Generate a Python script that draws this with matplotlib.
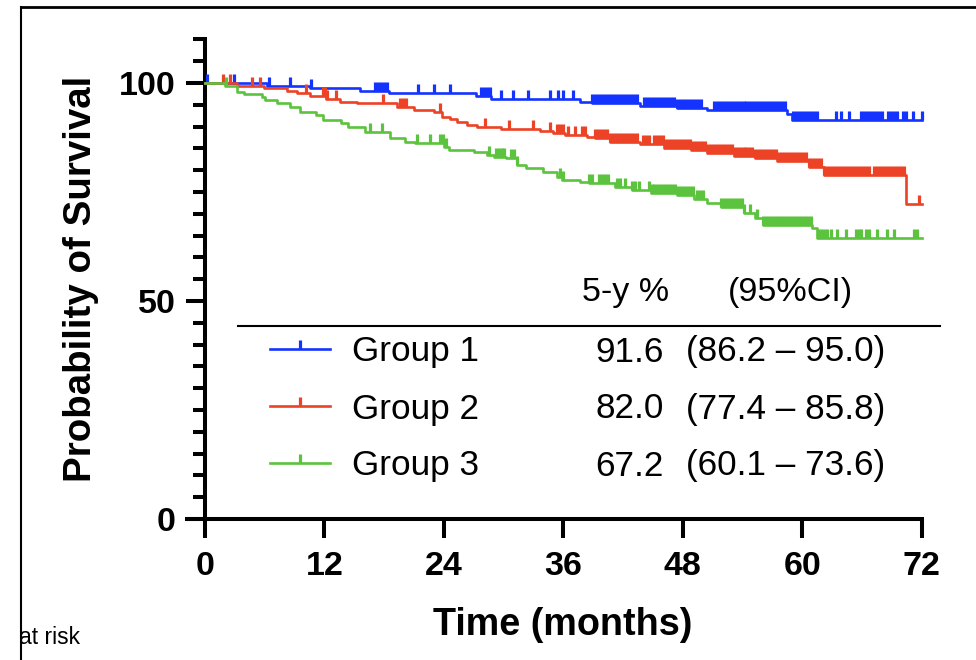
import numpy as np
import matplotlib
matplotlib.use("Agg")
import matplotlib.pyplot as plt
from matplotlib.lines import Line2D
from matplotlib.ticker import MultipleLocator

plt.rcParams['font.family'] = ['Liberation Sans', 'DejaVu Sans']

# ---- data ----
# event times (months) and survival (%) after each step
g1_t = [6.2, 10.6, 15.6, 18.5, 27.2, 28.7, 37.7, 38.9, 43.7, 47.4, 50.4, 58.5, 59.0]
g1_s = [99.4, 98.8, 98.2, 97.7, 97.0, 96.3, 95.7, 95.3, 94.8, 94.2, 93.8, 92.8, 91.5]
g1_cens = [0.2, 2.9, 6.4, 8.5, 10.7, 17.1, 17.4, 17.7, 18.0, 18.3, 21.4, 23.0, 24.6,
           27.7, 28.0, 28.3, 28.6, 29.7, 30.9, 32.5, 34.7, 35.5, 36.0, 37.0,
           38.9, 39.2, 39.5, 39.8, 40.1, 40.4, 40.7, 41.0, 41.3, 41.6, 41.9, 42.2,
           42.5, 42.8, 43.1, 43.4, 44.1, 44.4, 44.7, 45.0, 45.3, 45.6, 45.9, 46.2,
           46.5, 46.8, 47.1, 47.4, 47.7, 48.0, 48.3, 48.6, 48.9, 49.2, 49.5, 49.8,
           51.1, 51.4, 51.7, 52.0, 52.3, 52.6, 52.9, 53.2, 53.5, 53.8, 54.1, 54.4,
           54.7, 55.0, 55.3, 55.6, 55.9, 56.2, 56.5, 56.8, 57.1, 57.4, 57.7, 58.0,
           58.3, 59.1, 59.4, 59.7, 60.0, 60.3, 60.6, 60.9, 61.2, 61.5, 63.4, 63.9,
           64.7, 65.9, 66.2, 66.5, 66.8, 67.1, 67.4, 67.7, 68.0, 68.6, 68.9, 69.2,
           69.5, 70.1, 70.4, 71.1, 72.0]

g2_t = [3.2, 5.9, 8.2, 9.2, 10.6, 12.2, 13.6, 15.3, 19.3, 21.0, 23.0, 23.8, 24.6,
        25.3, 26.3, 27.3, 29.7, 33.7, 35.0, 36.2, 38.4, 39.2, 40.7, 43.7, 46.1,
        48.8, 50.4, 53.1, 55.3, 57.5, 60.7, 62.2, 70.4]
g2_s = [99.2, 98.8, 98.2, 97.6, 97.0, 96.3, 95.7, 95.3, 94.6, 93.8, 93.3, 92.3, 91.7,
        91.1, 90.4, 89.8, 89.5, 89.0, 88.5, 88.1, 87.6, 87.3, 86.5, 85.9, 85.0,
        84.6, 83.9, 83.3, 82.7, 82.0, 80.8, 78.9, 72.2]
g2_cens = [1.8, 2.5, 4.7, 5.5, 10.2, 11.9, 12.1, 12.3, 13.2, 17.9, 19.6, 19.9, 20.2,
           23.6, 28.1, 30.5, 33.0, 34.7, 35.4, 35.7, 36.0, 36.5, 37.2, 37.9, 38.2,
           39.2, 39.5, 39.8, 40.1, 40.4, 40.7, 41.0, 41.3, 41.6, 41.9, 42.2, 42.5,
           42.8, 43.1, 43.4, 44.0, 44.3, 44.6, 45.1, 45.4, 45.7, 46.0, 46.3, 46.6,
           46.9, 47.2, 47.5, 47.8, 48.1, 48.4, 48.7, 49.0, 49.3, 49.6, 49.9, 50.2,
           50.5, 50.8, 51.1, 51.4, 51.7, 52.0, 52.3, 52.6, 52.9, 53.2, 53.5, 53.8,
           54.1, 54.4, 54.7, 55.0, 55.3, 55.6, 55.9, 56.2, 56.5, 56.8, 57.1, 57.4,
           57.7, 58.0, 58.3, 58.6, 58.9, 59.2, 59.5, 59.8, 60.1, 60.4, 60.7, 61.0,
           61.3, 61.6, 61.9, 62.2, 62.5, 62.8, 63.1, 63.4, 63.7, 64.0, 64.3, 64.6,
           64.9, 65.2, 65.5, 65.8, 66.1, 66.4, 66.7, 67.2, 67.5, 67.8, 68.1, 68.4,
           68.7, 69.0, 69.3, 69.6, 69.9, 70.2, 71.7]

g3_t = [2.0, 3.2, 3.9, 5.7, 6.0, 7.2, 8.5, 9.6, 11.2, 11.9, 13.7, 14.4, 16.1, 18.6,
        20.1, 21.1, 24.0, 24.5, 27.0, 28.3, 29.0, 30.2, 31.3, 32.3, 34.0, 35.4,
        35.9, 37.7, 38.6, 41.2, 42.9, 44.8, 47.4, 49.1, 50.4, 51.8, 54.1, 55.3,
        56.1, 61.0, 61.5]
g3_s = [99.2, 98.0, 97.5, 96.9, 96.0, 95.3, 94.4, 93.4, 92.7, 91.5, 90.8, 89.8, 88.8,
        87.3, 86.5, 86.2, 85.4, 84.6, 84.2, 83.5, 83.1, 82.7, 81.2, 80.6, 79.7,
        78.5, 77.8, 77.4, 77.0, 76.2, 75.5, 74.7, 74.3, 73.5, 72.4, 71.6, 70.1,
        69.0, 67.5, 66.8, 64.5]
g3_cens = [2.1, 16.6, 17.8, 21.3, 22.6, 23.6, 23.9, 24.2, 28.5, 29.2, 29.5, 29.8,
           30.0, 30.7, 31.0, 31.3, 35.7, 36.0, 38.6, 38.9, 39.6, 39.9, 40.2, 40.5,
           41.4, 41.7, 42.2, 42.9, 43.2, 43.6, 44.6, 44.9, 45.1, 45.4, 45.7, 46.0,
           46.3, 46.6, 46.9, 47.2, 47.5, 47.8, 48.1, 48.4, 48.7, 49.0, 49.4, 49.7,
           50.0, 51.8, 52.1, 52.4, 52.7, 53.0, 53.3, 53.6, 53.9, 54.2, 54.8, 55.5,
           56.1, 56.4, 56.7, 57.0, 57.3, 57.6, 57.9, 58.2, 58.5, 58.8, 59.1, 59.4,
           59.7, 60.0, 60.3, 60.6, 60.9, 61.6, 61.9, 62.2, 62.5, 62.9, 63.5, 64.4,
           65.4, 65.7, 65.9, 66.4, 66.7, 67.5, 68.5, 69.2, 71.2, 71.5]

groups = ["Group 1", "Group 2", "Group 3"]
five_year = ["91.6", "82.0", "67.2"]
ci = ["(86.2 \u2013 95.0)", "(77.4 \u2013 85.8)", "(60.1 \u2013 73.6)"]
colors = ["#1433ff", "#ec4226", "#5bc33d"]
x_ticks = [0, 12, 24, 36, 48, 60, 72]
y_ticks = [0, 50, 100]

W, H = 976, 660
fig = plt.figure(figsize=(W / 100, H / 100), dpi=100)
ax = fig.add_axes([187 / W, 1 - 519 / H, (921.7 - 187) / W, (519 - 39.4) / H])


def fx(px):
    return px / W


def fy(py):
    return 1 - py / H


LW, MEW, MS = 1.9, 2.3, 6.5

series = [(g1_t, g1_s, g1_cens), (g2_t, g2_s, g2_cens), (g3_t, g3_s, g3_cens)]
for (tt, ss, cc), col in zip(series, colors):
    t_full = [0] + tt + [72]
    s_full = [100] + ss + [ss[-1]]
    ax.step(t_full, s_full, where="post", color=col, lw=LW, clip_on=False, zorder=3)
    idx = np.searchsorted(tt, cc, side="right")
    cy = np.array([100] + ss)[idx]
    ax.plot(cc, cy, ls="none", marker=2, ms=MS, mew=MEW, color=col,
            clip_on=False, zorder=3)

ax.set_xlim(-1.8, 72)
ax.set_ylim(0, 110)
for sp in ["top", "right"]:
    ax.spines[sp].set_visible(False)
ax.spines["left"].set_position(("data", 0))
ax.spines["left"].set_linewidth(2.9)
ax.spines["bottom"].set_linewidth(2.9)
ax.spines["left"].set_capstyle("projecting")
ax.spines["bottom"].set_capstyle("projecting")
ax.set_xticks(x_ticks)
ax.set_yticks(y_ticks)
ax.yaxis.set_minor_locator(MultipleLocator(5))
ax.tick_params(axis="both", which="major", width=2.9, length=14, labelsize=24.5)
ax.tick_params(axis="y", which="minor", width=2.9, length=8.5)
ax.tick_params(axis="y", which="major", pad=7)
ax.tick_params(axis="x", which="major", pad=9)
for lab in ax.get_xticklabels() + ax.get_yticklabels():
    lab.set_fontweight("bold")

fig.text(fx(81), fy(279), "Probability of Survival", rotation=90, ha="center",
         va="center", fontsize=27.7, fontweight="bold")
fig.text(fx(563), fy(625), "Time (months)", ha="center", va="center",
         fontsize=27.2, fontweight="bold")

# table-style legend
fig.text(fx(626), fy(292), "5-y %", ha="center", va="center", fontsize=24.5)
fig.text(fx(790), fy(292), "(95%CI)", ha="center", va="center", fontsize=24.5)
fig.add_artist(Line2D([fx(238), fx(940)], [fy(326), fy(326)], color="black", lw=1.5))
rows_y = [349, 406, 463]
for i in range(3):
    yy = fy(rows_y[i])
    fig.add_artist(Line2D([fx(270), fx(300), fx(330)], [yy, yy, yy], color=colors[i],
                          lw=LW, marker=2, ms=MS, mew=MEW, markevery=[1]))
    fig.text(fx(352), fy(rows_y[i] + 3), groups[i], ha="left", va="center", fontsize=25.3)
    fig.text(fx(664), fy(rows_y[i] + 3), five_year[i], ha="right", va="center", fontsize=25.3)
    fig.text(fx(686), fy(rows_y[i] + 3), ci[i], ha="left", va="center", fontsize=25.3)

fig.text(fx(19), fy(638), "at risk", ha="left", va="center", fontsize=16.5)

# frame of the cropped panel
fig.add_artist(Line2D([fx(21), fx(976)], [fy(7), fy(7)], color="black", lw=2))
fig.add_artist(Line2D([fx(21), fx(21)], [fy(7), fy(660)], color="black", lw=1.5))

fig.savefig("out.png", dpi=100)
